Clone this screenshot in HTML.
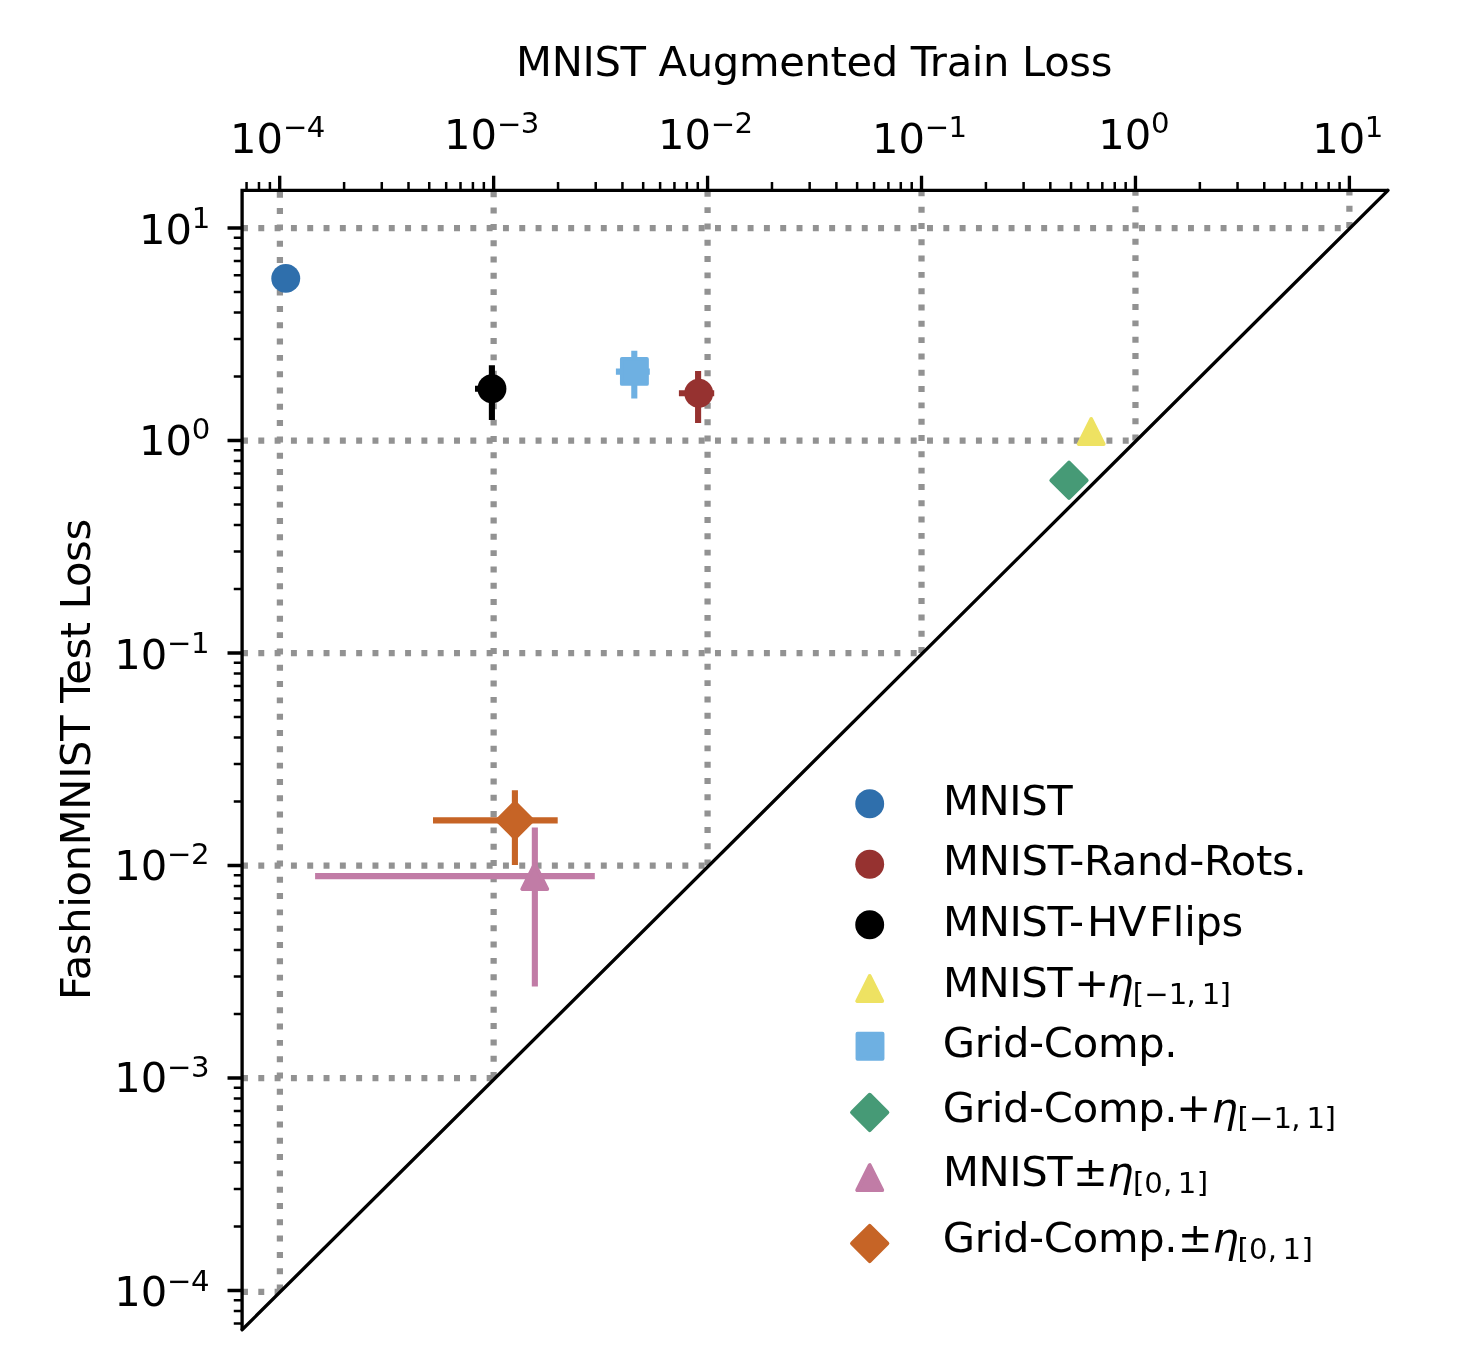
<!DOCTYPE html>
<html lang="en"><head><meta charset="utf-8"><title>MNIST Augmented Train Loss vs FashionMNIST Test Loss</title>
<style>html,body{margin:0;padding:0;background:#fff}svg{display:block;will-change:transform}text{font-family:"DejaVu Sans","Liberation Sans",sans-serif;fill:#000}.m{font-size:41.67px}.s{font-size:29.17px}.i{font-style:italic}</style></head><body>
<svg width="1484" height="1372" viewBox="0 0 1484 1372">
<rect width="1484" height="1372" fill="#fff"/>
<defs><clipPath id="tri"><polygon points="242.1,190.35 1388,190.35 242.1,1329.8"/></clipPath></defs>
<g clip-path="url(#tri)" stroke="#929292" stroke-width="6.25" fill="none" stroke-dasharray="5.95 10.36">
<path d="M279.9 1290.5V188.35"/>
<path d="M493.64 1078V188.35"/>
<path d="M707.58 865.5V188.35"/>
<path d="M921.52 653V188.35"/>
<path d="M1135.46 440.5V188.35"/>
<path d="M1349.4 228V188.35"/>
<path d="M242 1291.8H1393"/>
<path d="M242 1078H1393"/>
<path d="M242 865.5H1393"/>
<path d="M242 653H1393"/>
<path d="M242 440.5H1393"/>
<path d="M242 228H1393"/>
</g>
<circle cx="285.75" cy="278.4" r="14.45" fill="#2f6fac"/>
<path d="M475 388.75H500M491.9 365.3V419.9" stroke="#000000" stroke-width="6.1" fill="none"/>
<circle cx="491.95" cy="388.75" r="14.45" fill="#000000"/>
<path d="M615.9 371.6H649.8M634.3 350.7V398.5" stroke="#6eb0e2" stroke-width="6.1" fill="none"/>
<rect x="621.9" y="358.9" width="25" height="25" fill="#6eb0e2" stroke="#6eb0e2" stroke-width="3.9" stroke-linejoin="round"/>
<path d="M678.9 393.2H714.2M698.1 370.9V423" stroke="#963230" stroke-width="6.1" fill="none"/>
<circle cx="698.75" cy="393.2" r="14.45" fill="#963230"/>
<path d="M1091.2 419L1078.7 444H1103.7Z" fill="#eee262" stroke="#eee262" stroke-width="3.9" stroke-linejoin="round"/>
<path d="M1069 462.62L1086.68 480.3L1069 497.98L1051.32 480.3Z" fill="#469a76" stroke="#469a76" stroke-width="3.9" stroke-linejoin="round"/>
<path d="M433 820.35H557.7M514.9 790.2V865" stroke="#c66426" stroke-width="6.1" fill="none"/>
<path d="M514.95 802.67L532.63 820.35L514.95 838.03L497.27 820.35Z" fill="#c66426" stroke="#c66426" stroke-width="3.9" stroke-linejoin="round"/>
<path d="M315.1 876.1H594.8M534.85 827.5V986.4" stroke="#c17ca6" stroke-width="6.1" fill="none"/>
<path d="M534.75 864L522.25 889H547.25Z" fill="#c17ca6" stroke="#c17ca6" stroke-width="3.9" stroke-linejoin="round"/>
<path d="M242.1 1329.8L1388 190.35" stroke="#000" stroke-width="3.33" fill="none" stroke-linecap="round"/>
<path d="M242.1 1329.8V190.35H1388" stroke="#000" stroke-width="3.33" fill="none" stroke-linejoin="miter" stroke-linecap="butt"/>
<path d="M279.7 190.35v-14.58M242.1 1290.5h-14.58M493.64 190.35v-14.58M242.1 1078h-14.58M707.58 190.35v-14.58M242.1 865.5h-14.58M921.52 190.35v-14.58M242.1 653h-14.58M1135.46 190.35v-14.58M242.1 440.5h-14.58M1349.4 190.35v-14.58M242.1 228h-14.58" stroke="#000" stroke-width="3.33" fill="none"/>
<path d="M246.56 190.35v-8.33M242.1 1323.42h-8.33M258.97 190.35v-8.33M242.1 1311.09h-8.33M269.91 190.35v-8.33M242.1 1300.22h-8.33M344.1 190.35v-8.33M242.1 1226.53h-8.33M381.78 190.35v-8.33M242.1 1189.11h-8.33M408.5 190.35v-8.33M242.1 1162.56h-8.33M429.24 190.35v-8.33M242.1 1141.97h-8.33M446.18 190.35v-8.33M242.1 1125.14h-8.33M460.5 190.35v-8.33M242.1 1110.92h-8.33M472.91 190.35v-8.33M242.1 1098.59h-8.33M483.85 190.35v-8.33M242.1 1087.72h-8.33M558.04 190.35v-8.33M242.1 1014.03h-8.33M595.72 190.35v-8.33M242.1 976.61h-8.33M622.44 190.35v-8.33M242.1 950.06h-8.33M643.18 190.35v-8.33M242.1 929.47h-8.33M660.12 190.35v-8.33M242.1 912.64h-8.33M674.44 190.35v-8.33M242.1 898.42h-8.33M686.85 190.35v-8.33M242.1 886.09h-8.33M697.79 190.35v-8.33M242.1 875.22h-8.33M771.98 190.35v-8.33M242.1 801.53h-8.33M809.66 190.35v-8.33M242.1 764.11h-8.33M836.38 190.35v-8.33M242.1 737.56h-8.33M857.12 190.35v-8.33M242.1 716.97h-8.33M874.06 190.35v-8.33M242.1 700.14h-8.33M888.38 190.35v-8.33M242.1 685.92h-8.33M900.79 190.35v-8.33M242.1 673.59h-8.33M911.73 190.35v-8.33M242.1 662.72h-8.33M985.92 190.35v-8.33M242.1 589.03h-8.33M1023.6 190.35v-8.33M242.1 551.61h-8.33M1050.32 190.35v-8.33M242.1 525.06h-8.33M1071.06 190.35v-8.33M242.1 504.47h-8.33M1088 190.35v-8.33M242.1 487.64h-8.33M1102.32 190.35v-8.33M242.1 473.42h-8.33M1114.73 190.35v-8.33M242.1 461.09h-8.33M1125.67 190.35v-8.33M242.1 450.22h-8.33M1199.86 190.35v-8.33M242.1 376.53h-8.33M1237.54 190.35v-8.33M242.1 339.11h-8.33M1264.26 190.35v-8.33M242.1 312.56h-8.33M1285 190.35v-8.33M242.1 291.97h-8.33M1301.94 190.35v-8.33M242.1 275.14h-8.33M1316.26 190.35v-8.33M242.1 260.92h-8.33M1328.67 190.35v-8.33M242.1 248.59h-8.33M1339.61 190.35v-8.33M242.1 237.72h-8.33" stroke="#000" stroke-width="2.5" fill="none"/>
<text class="m" x="230.1" y="153">10</text>
<text class="s" x="282.96" y="137.2">−</text>
<text class="s" x="306.7" y="137.2">4</text>
<text class="m" x="444.04" y="149.1">10</text>
<text class="s" x="496.9" y="133.5">−</text>
<text class="s" x="520.64" y="133.3">3</text>
<text class="m" x="657.98" y="149.1">10</text>
<text class="s" x="710.84" y="133.5">−</text>
<text class="s" x="734.58" y="133.3">2</text>
<text class="m" x="871.92" y="153">10</text>
<text class="s" x="924.78" y="137.2">−</text>
<text class="s" x="948.52" y="137.2">1</text>
<text class="m" x="1098.21" y="149.1">10</text>
<text class="s" x="1150.91" y="133.3">0</text>
<text class="m" x="1312.15" y="153">10</text>
<text class="s" x="1364.85" y="137.2">1</text>
<text class="m" x="114.3" y="1306.4">10</text>
<text class="s" x="167" y="1290.6">−</text>
<text class="s" x="191" y="1290.6">4</text>
<text class="m" x="114.3" y="1092.3">10</text>
<text class="s" x="167" y="1076.5">−</text>
<text class="s" x="191" y="1076.5">3</text>
<text class="m" x="114.3" y="879.8">10</text>
<text class="s" x="167" y="864">−</text>
<text class="s" x="191" y="864">2</text>
<text class="m" x="114.3" y="668.9">10</text>
<text class="s" x="167" y="653.1">−</text>
<text class="s" x="191" y="653.1">1</text>
<text class="m" x="139" y="454.7">10</text>
<text class="s" x="191.85" y="438.9">0</text>
<text class="m" x="139" y="243.9">10</text>
<text class="s" x="191.85" y="228.1">1</text>
<text class="m" x="516.1" y="75.7" textLength="596.3" lengthAdjust="spacing">MNIST Augmented Train Loss</text>
<text class="m" transform="translate(90 1000.1) rotate(-90)" textLength="481.2" lengthAdjust="spacing">FashionMNIST Test Loss</text>
<circle cx="869.7" cy="803.8" r="14.45" fill="#2f6fac"/>
<circle cx="869.7" cy="864.2" r="14.45" fill="#963230"/>
<circle cx="869.7" cy="924.75" r="14.45" fill="#000000"/>
<path d="M869.7 976L857.2 1001H882.2Z" fill="#eee262" stroke="#eee262" stroke-width="3.9" stroke-linejoin="round"/>
<rect x="857.5" y="1033.7" width="25" height="25" fill="#6eb0e2" stroke="#6eb0e2" stroke-width="3.9" stroke-linejoin="round"/>
<path d="M869.7 1094.72L887.38 1112.4L869.7 1130.08L852.02 1112.4Z" fill="#469a76" stroke="#469a76" stroke-width="3.9" stroke-linejoin="round"/>
<path d="M869.7 1165.15L857.2 1190.15H882.2Z" fill="#c17ca6" stroke="#c17ca6" stroke-width="3.9" stroke-linejoin="round"/>
<path d="M869.7 1225.77L887.38 1243.45L869.7 1261.13L852.02 1243.45Z" fill="#c66426" stroke="#c66426" stroke-width="3.9" stroke-linejoin="round"/>
<text class="m" x="943" y="815" textLength="129.8" lengthAdjust="spacing">MNIST</text>
<text class="m" x="943" y="875.1" textLength="363.8" lengthAdjust="spacing">MNIST-Rand-Rots.</text>
<text class="m" y="935.5" x="943.1 978.65 1009.4 1021.35 1047.5 1068.9 1087 1118 1149 1172.8 1184.2 1195.5 1221.6">MNIST-HVFlips</text>
<text class="m" x="943" y="997" textLength="129.8" lengthAdjust="spacing">MNIST</text>
<text class="m" x="1074.2" y="997">+</text>
<text class="m i" x="1107.24" y="997">η</text>
<text class="s" x="1132.69" y="1003.6">[</text>
<text class="s" x="1144.16" y="1003.6">−</text>
<text class="s" x="1168.69" y="1003.6">1</text>
<text class="s" x="1186.45" y="1003.6">,</text>
<text class="s" x="1201.69" y="1003.6">1</text>
<text class="s" x="1219.56" y="1003.6">]</text>
<text class="m" x="942.8" y="1056.8" textLength="234.8" lengthAdjust="spacing">Grid-Comp.</text>
<text class="m" x="942.8" y="1121.8" textLength="234.8" lengthAdjust="spacing">Grid-Comp.</text>
<text class="m" x="1176.18" y="1121.8">+</text>
<text class="m i" x="1211.54" y="1121.8">η</text>
<text class="s" x="1237.59" y="1128.4">[</text>
<text class="s" x="1249.06" y="1128.4">−</text>
<text class="s" x="1273.59" y="1128.4">1</text>
<text class="s" x="1291.35" y="1128.4">,</text>
<text class="s" x="1306.59" y="1128.4">1</text>
<text class="s" x="1324.46" y="1128.4">]</text>
<text class="m" x="943" y="1185.9" textLength="129.8" lengthAdjust="spacing">MNIST</text>
<text class="m" x="1072.98" y="1185.9">±</text>
<text class="m i" x="1107.34" y="1185.9">η</text>
<text class="s" x="1132.89" y="1192.5">[</text>
<text class="s" x="1144.18" y="1192.5">0</text>
<text class="s" x="1163.05" y="1192.5">,</text>
<text class="s" x="1177.69" y="1192.5">1</text>
<text class="s" x="1196.86" y="1192.5">]</text>
<text class="m" x="942.8" y="1252.1" textLength="234.8" lengthAdjust="spacing">Grid-Comp.</text>
<text class="m" x="1177.68" y="1252.1">±</text>
<text class="m i" x="1212.54" y="1252.1">η</text>
<text class="s" x="1237.59" y="1258.7">[</text>
<text class="s" x="1248.88" y="1258.7">0</text>
<text class="s" x="1267.75" y="1258.7">,</text>
<text class="s" x="1282.39" y="1258.7">1</text>
<text class="s" x="1301.56" y="1258.7">]</text>
</svg></body></html>
